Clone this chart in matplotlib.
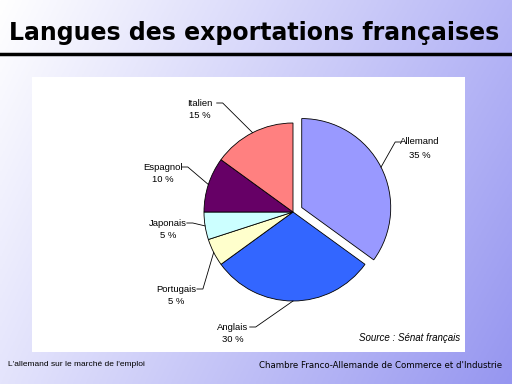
import numpy as np
import matplotlib.pyplot as plt
from matplotlib.patches import Rectangle

# data
langues = ["Allemand", "Anglais", "Portugais", "Japonais", "Espagnol", "Italien"]
parts = [35, 30, 5, 5, 10, 15]
couleurs = ["#9999FF", "#3366FF", "#FFFFCC", "#CCFFFF", "#660066", "#FF8080"]
eclate = [0.11, 0, 0, 0, 0, 0]

# label text positions (pixels, y from top) and side of the leader
lab_pos = {"Allemand": (420, 148, "left"), "Anglais": (233, 333, "right"),
           "Portugais": (176, 295, "right"), "Japonais": (168, 229, "right"),
           "Espagnol": (163, 173, "right"), "Italien": (200, 109, "right")}

W, H = 512, 384
fig = plt.figure(figsize=(5.12, 3.84), dpi=100)
ax = fig.add_axes([0, 0, 1, 1])

# gradient background
xx = np.linspace(0, 1, 200)
yy = np.linspace(0, 1, 150)
X, Y = np.meshgrid(xx, yy)  # Y=0 bottom
tl = np.array([255, 255, 255]); tr = np.array([182, 182, 246])
bl = np.array([228, 228, 252]); br = np.array([150, 150, 240])
img = (tl * ((1 - X) * Y)[..., None] + tr * (X * Y)[..., None]
       + bl * ((1 - X) * (1 - Y))[..., None] + br * (X * (1 - Y))[..., None]) / 255
ax.imshow(img, extent=[0, W, 0, H], origin="lower", aspect="auto", zorder=0)

# title + rule
ax.text(254, H - 33, "Langues des exportations françaises", ha="center", va="center",
        fontsize=17, fontweight="bold", family="DejaVu Sans", zorder=3)
ax.plot([0, W], [H - 54, H - 54], color="black", lw=2.5, zorder=3)

# white panel
ax.add_patch(Rectangle((32, H - 352), 433, 275, facecolor="white", edgecolor="none", zorder=1))

cx, cy, r = 293, H - 212, 89
wedges, _ = ax.pie(parts, colors=couleurs, startangle=90, counterclock=False,
                   explode=[e * r for e in eclate], center=(cx, cy), radius=r, frame=True,
                   wedgeprops=dict(edgecolor="black", linewidth=0.6, zorder=2))
ax.set_xlim(0, W)
ax.set_ylim(0, H)
ax.set_aspect("auto")
ax.axis("off")

for w, lang, p in zip(wedges, langues, parts):
    tx, ty, side = lab_pos[lang]
    ty = H - ty
    mid = np.deg2rad((w.theta1 + w.theta2) / 2)
    ex = w.center[0] + w.r * np.cos(mid)
    ey = w.center[1] + w.r * np.sin(mid)
    ax.text(tx, ty + 6, lang, ha="center", va="center", fontsize=6.8,
            family="Liberation Sans", zorder=3)
    ax.text(tx, ty - 7, f"{p} %", ha="center", va="center", fontsize=6.8,
            family="Liberation Sans", zorder=3)
    half = len(lang) * 2.1
    if side == "right":
        sx = tx + half + 2
        ax.plot([sx, sx + 6, ex], [ty + 6, ty + 6, ey], color="black", lw=0.6, zorder=3)
    else:
        sx = tx - half - 2
        ax.plot([sx, sx - 6, ex], [ty + 6, ty + 6, ey], color="black", lw=0.6, zorder=3)

ax.text(460, H - 338, "Source : Sénat français", ha="right", va="center", fontsize=7,
        style="italic", family="Liberation Sans", zorder=3)

ax.text(8, H - 365, "L'allemand sur le marché de l'emploi", ha="left", va="center",
        fontsize=6, family="Liberation Sans", zorder=3)
ax.text(502, H - 365, "Chambre Franco-Allemande de Commerce et d'Industrie", ha="right",
        va="center", fontsize=6.2, family="DejaVu Sans", zorder=3)

fig.savefig("out.png", dpi=100)
